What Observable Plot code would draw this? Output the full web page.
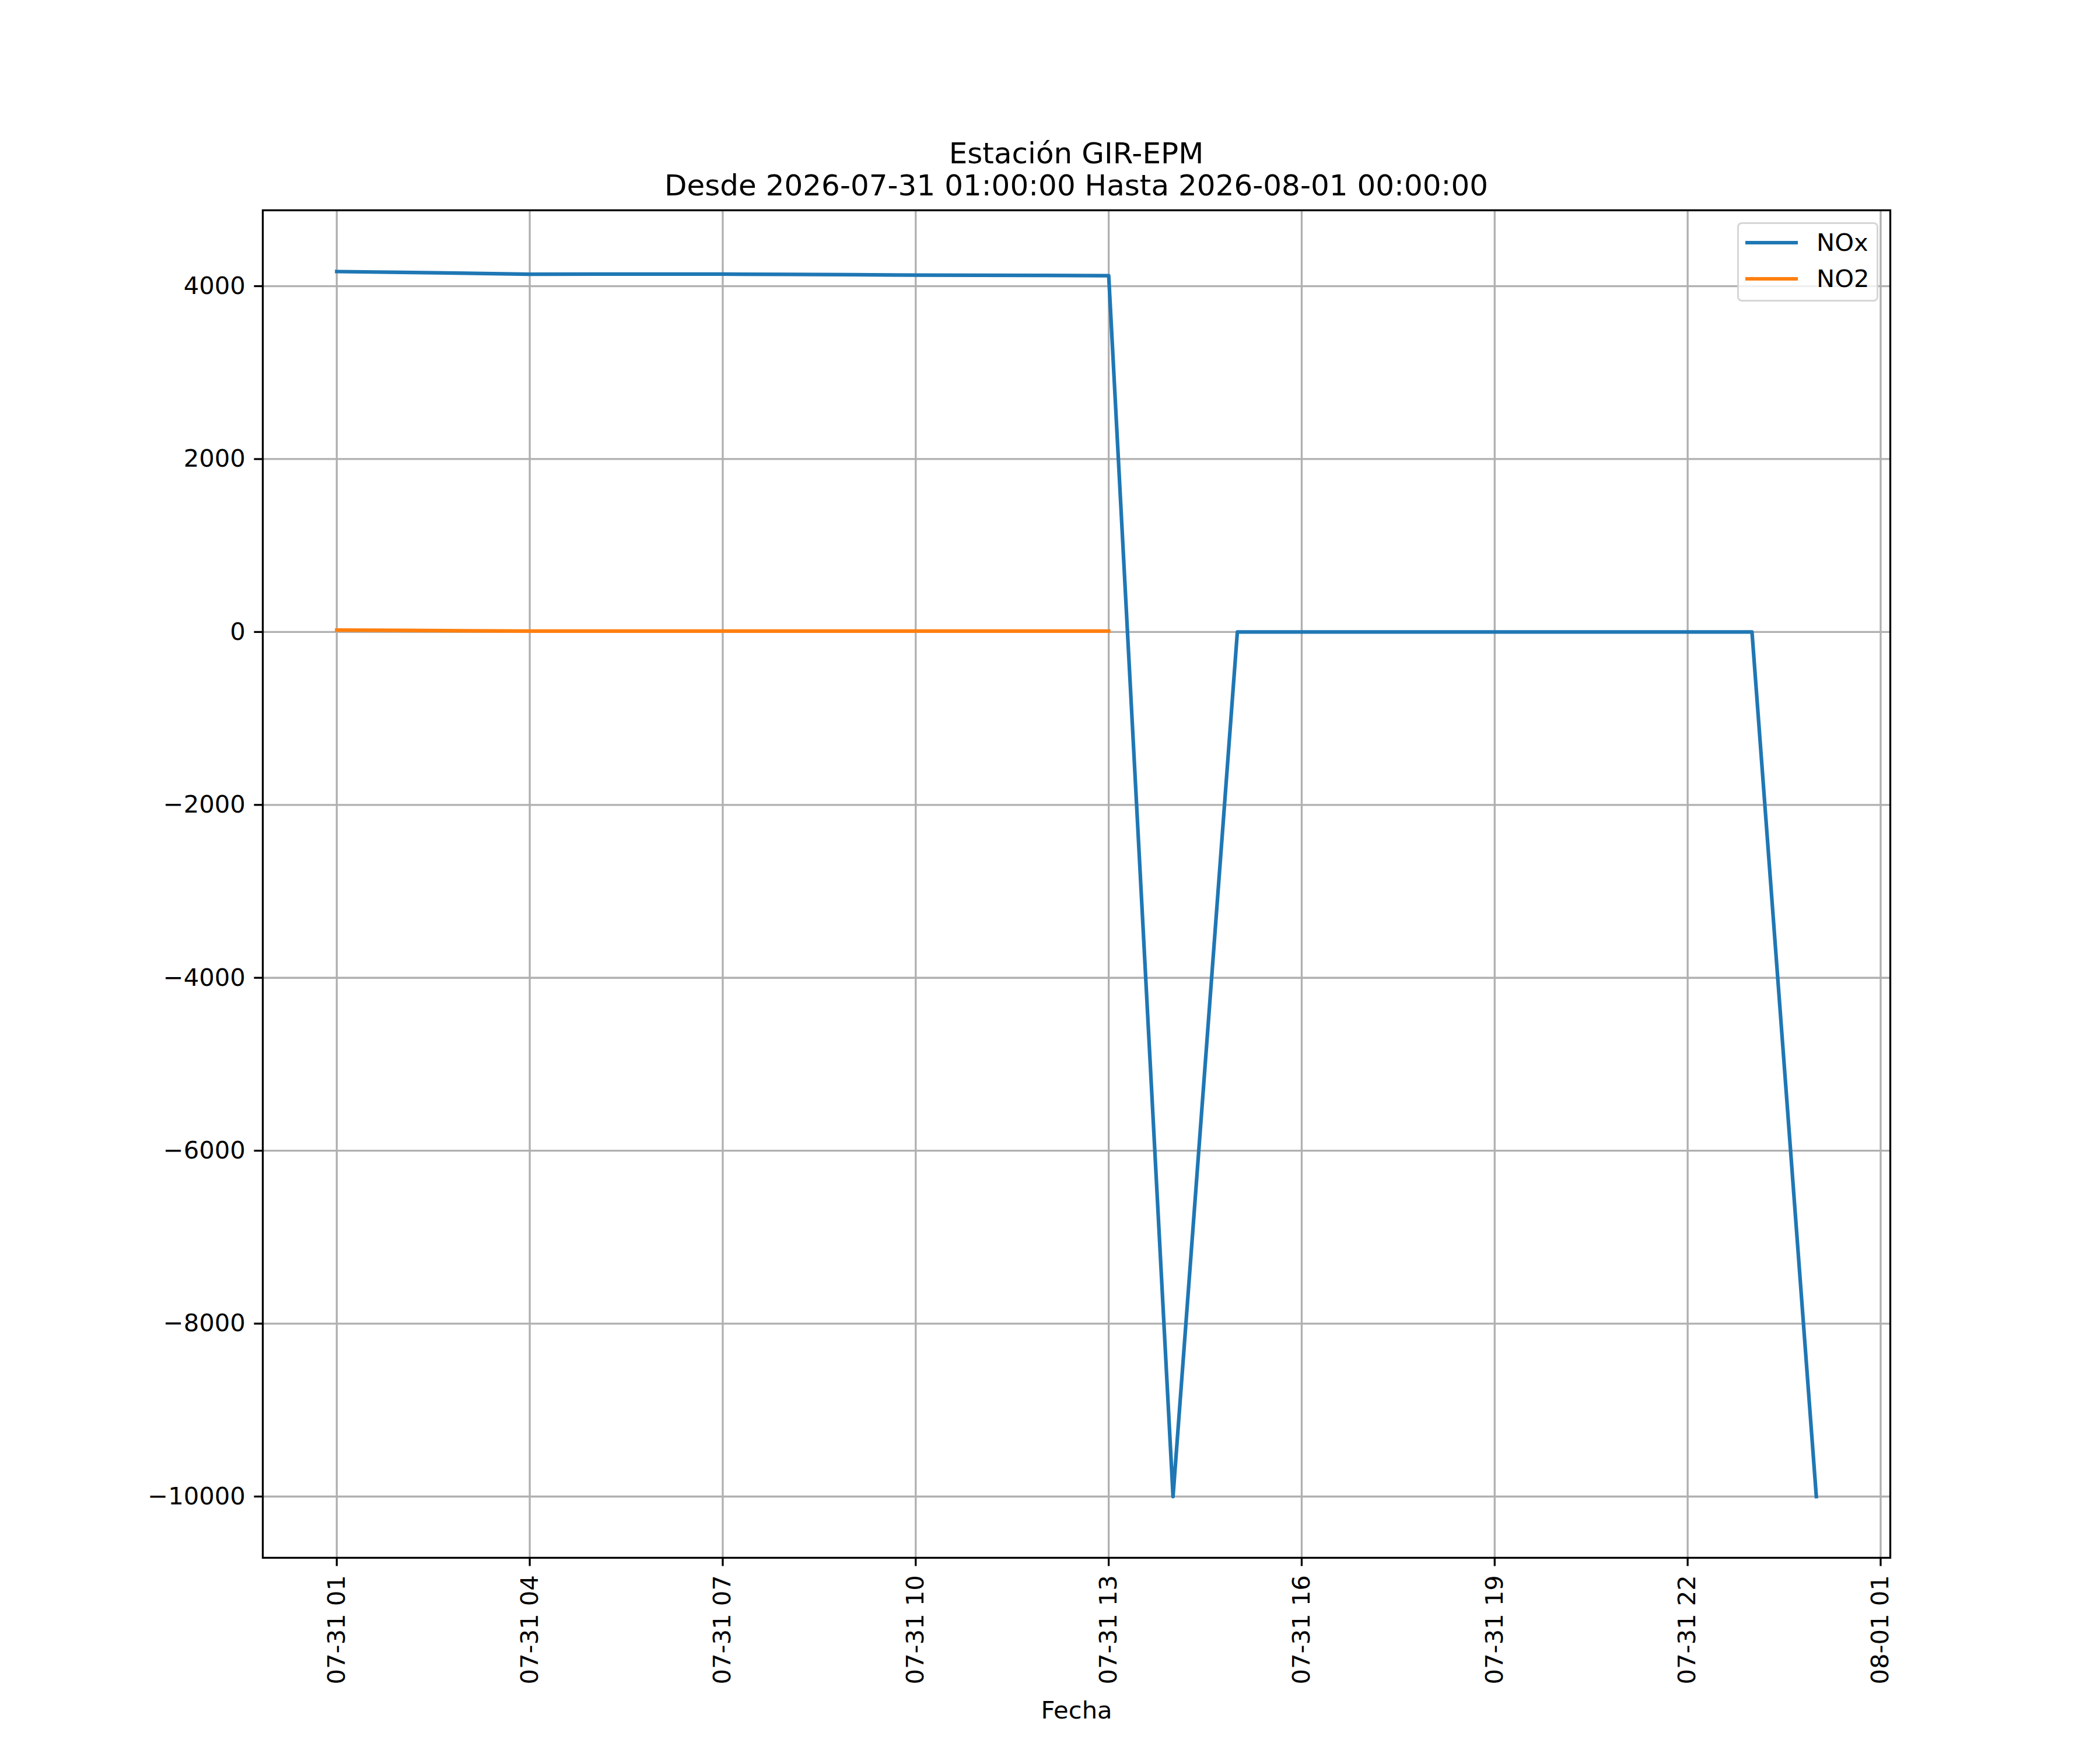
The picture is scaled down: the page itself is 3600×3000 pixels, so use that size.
<!DOCTYPE html>
<html>
<head>
<meta charset="utf-8">
<script src="https://cdn.jsdelivr.net/npm/d3@7"></script>
<script src="https://cdn.jsdelivr.net/npm/@observablehq/plot@0.6"></script>
<style>
  html, body { margin: 0; padding: 0; background: white; }
  #wrap { position: relative; width: 3600px; height: 3000px; font-family: "DejaVu Sans", sans-serif; color: black; }
  #wrap svg { position: absolute; left: 0; top: 0; }
  .title { position: absolute; left: 450px; width: 2790px; text-align: center; font-size: 50px; line-height: 50px; white-space: nowrap; }
  #legend { position: absolute; left: 2978px; top: 381px; width: 236px; height: 130px; border: 3.3px solid rgba(204,204,204,0.8); border-radius: 8px; background: rgba(255,255,255,0.8); }
  .lg-line { position: absolute; left: 11px; width: 90px; height: 6.25px; }
  .lg-text { position: absolute; left: 133px; font-size: 41.7px; line-height: 41.7px; }
</style>
</head>
<body>
<div id="wrap">
  <div class="title" style="top:237.7px">Estación GIR-EPM</div>
  <div class="title" style="top:292.7px">Desde 2026-07-31 01:00:00 Hasta 2026-08-01 00:00:00</div>
</div>
<script>
// ---- data ----
const times = [
  "2026-07-31T01:00:00Z", "2026-07-31T02:00:00Z", "2026-07-31T03:00:00Z", "2026-07-31T04:00:00Z",
  "2026-07-31T05:00:00Z", "2026-07-31T06:00:00Z", "2026-07-31T07:00:00Z", "2026-07-31T08:00:00Z",
  "2026-07-31T09:00:00Z", "2026-07-31T10:00:00Z", "2026-07-31T11:00:00Z", "2026-07-31T12:00:00Z",
  "2026-07-31T13:00:00Z", "2026-07-31T14:00:00Z", "2026-07-31T15:00:00Z", "2026-07-31T16:00:00Z",
  "2026-07-31T17:00:00Z", "2026-07-31T18:00:00Z", "2026-07-31T19:00:00Z", "2026-07-31T20:00:00Z",
  "2026-07-31T21:00:00Z", "2026-07-31T22:00:00Z", "2026-07-31T23:00:00Z", "2026-08-01T00:00:00Z"
];
const nox = [4169, 4160, 4150, 4138, 4139, 4139, 4139, 4136, 4132, 4128, 4126, 4124, 4121,
             -10000, 0, 0, 0, 0, 0, 0, 0, 0, 0, -10000];
const no2 = [22, 18, 14, 11, 11, 11, 11, 10, 10, 10, 10, 10, 10,
             null, null, null, null, null, null, null, null, null, null, null];
const seriesNames = ["NOx", "NO2"];
const seriesColors = ["#1f77b4", "#ff7f0e"];
const xTicks = [
  "2026-07-31T01:00:00Z", "2026-07-31T04:00:00Z", "2026-07-31T07:00:00Z", "2026-07-31T10:00:00Z",
  "2026-07-31T13:00:00Z", "2026-07-31T16:00:00Z", "2026-07-31T19:00:00Z", "2026-07-31T22:00:00Z",
  "2026-08-01T01:00:00Z"
];
const yTicks = [-10000, -8000, -6000, -4000, -2000, 0, 2000, 4000];
const xDomain = ["2026-07-30T23:51:00Z", "2026-08-01T01:09:00Z"];
const yDomain = [-10708.45, 4877.45];

// ---- build ----
const noxData = times.map((t, i) => ({t: new Date(t), v: nox[i]}));
const no2Data = times.map((t, i) => ({t: new Date(t), v: no2[i]}));
const fmtX = d3.utcFormat("%m-%d %H");
const fmtY = d3.format("d");

const chart = Plot.plot({
  width: 3600,
  height: 3000,
  marginLeft: 450,
  marginRight: 360,
  marginTop: 360,
  marginBottom: 330,
  style: {fontFamily: "DejaVu Sans", fontSize: "41.7px", background: "transparent", color: "black"},
  x: {type: "utc", domain: xDomain.map(d => new Date(d))},
  y: {domain: yDomain},
  marks: [
    Plot.gridX(xTicks.map(d => new Date(d)), {stroke: "#b0b0b0", strokeOpacity: 1, strokeWidth: 3.3}),
    Plot.gridY(yTicks, {stroke: "#b0b0b0", strokeOpacity: 1, strokeWidth: 3.3}),
    Plot.line(noxData, {x: "t", y: "v", stroke: seriesColors[0], strokeWidth: 6.25, strokeLinecap: "square", strokeLinejoin: "round"}),
    Plot.line(no2Data, {x: "t", y: "v", stroke: seriesColors[1], strokeWidth: 6.25, strokeLinecap: "square", strokeLinejoin: "round"}),
    Plot.frame({stroke: "black", strokeWidth: 3.3}),
    Plot.axisY(yTicks, {tickFormat: fmtY, tickSize: 14.6, tickPadding: 15, strokeWidth: 3.3, label: null, fontSize: 41.7}),
    Plot.axisX(xTicks.map(d => new Date(d)), {tickFormat: fmtX, tickRotate: -90, tickSize: 14.6, tickPadding: 15, strokeWidth: 3.3, fontSize: 41.7,
      label: "Fecha", labelAnchor: "center", labelArrow: "none", labelOffset: 275})
  ]
});
const wrap = document.getElementById("wrap");
wrap.insertBefore(chart, wrap.firstChild);

// legend
const legend = document.createElement("div");
legend.id = "legend";
seriesNames.forEach((name, i) => {
  const line = document.createElement("div");
  line.className = "lg-line";
  line.style.top = (i === 0 ? 29 : 91) + "px";
  line.style.background = seriesColors[i];
  legend.appendChild(line);
  const txt = document.createElement("div");
  txt.className = "lg-text";
  txt.style.top = (i === 0 ? 11 : 73) + "px";
  txt.textContent = name;
  legend.appendChild(txt);
});
wrap.appendChild(legend);
</script>
</body>
</html>
